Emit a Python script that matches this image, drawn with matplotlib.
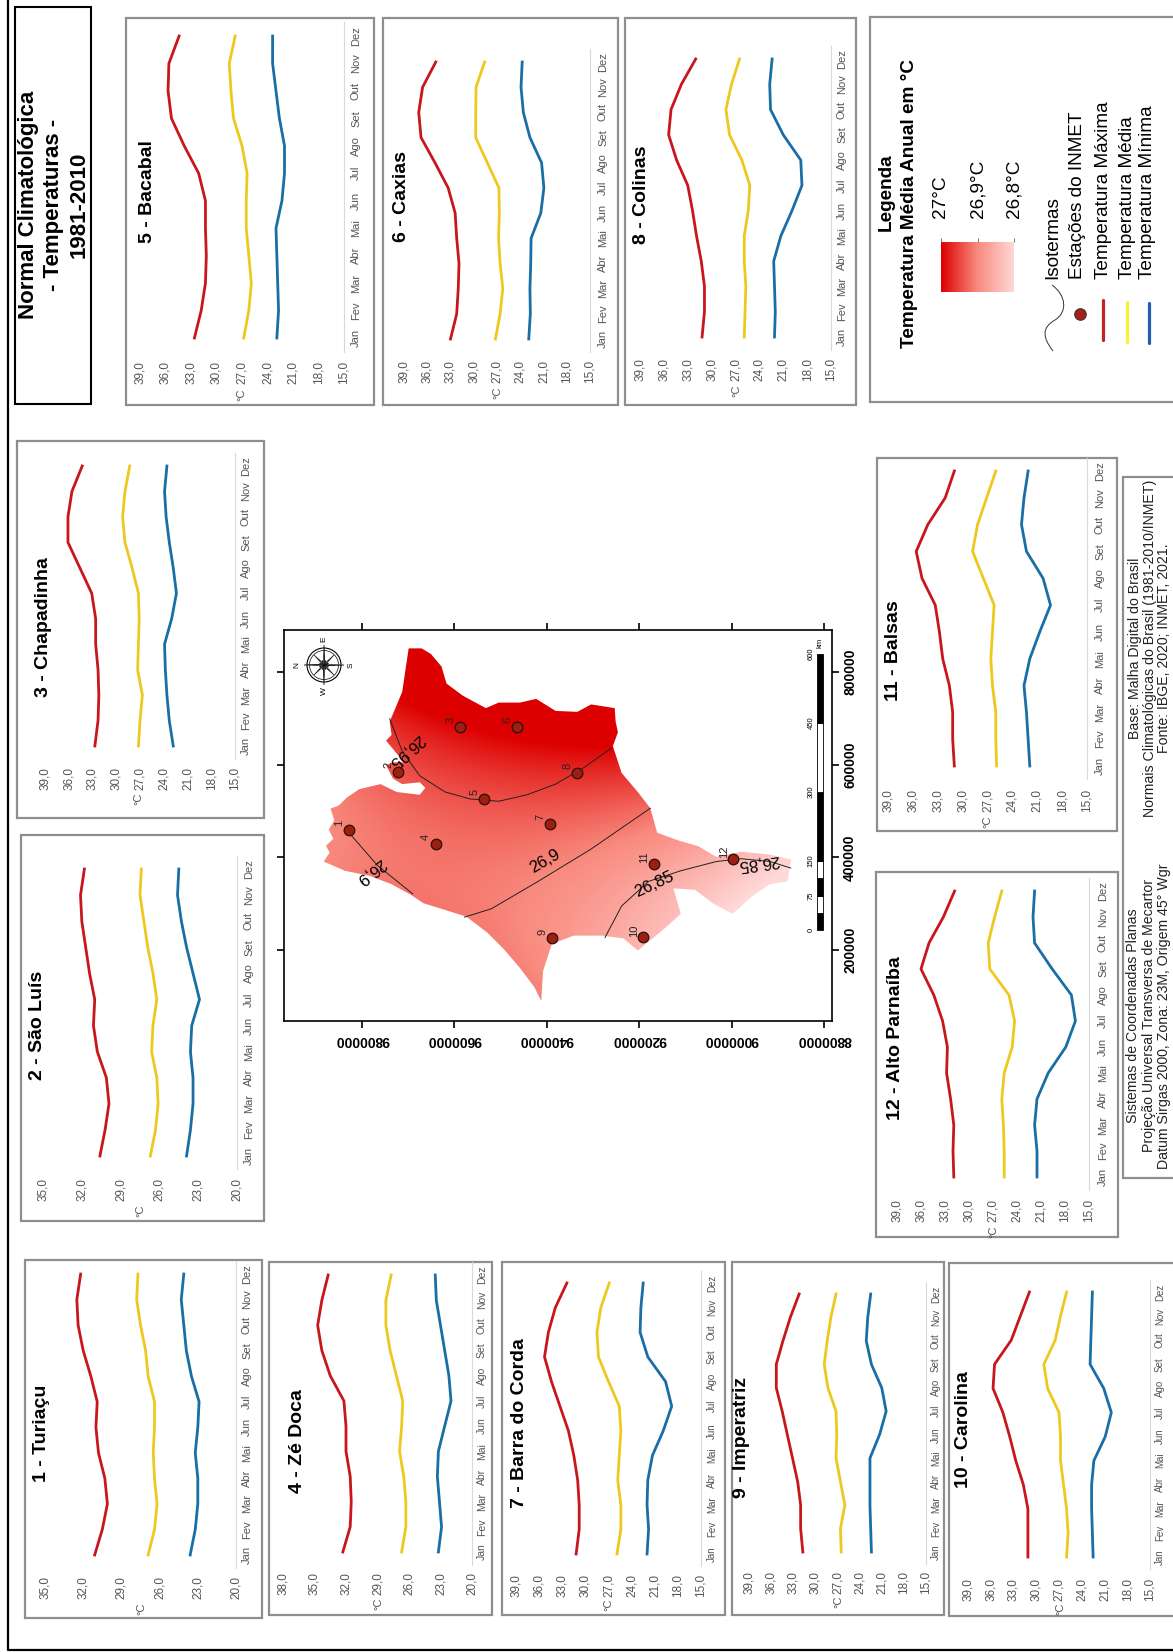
import numpy as np
import matplotlib
matplotlib.use("Agg")
import matplotlib.pyplot as plt
from matplotlib.colors import LinearSegmentedColormap
from matplotlib.patches import Rectangle, Polygon, Circle, PathPatch
from matplotlib.path import Path

plt.rcParams['font.family'] = ['Liberation Sans', 'DejaVu Sans']

W, H = 1173, 1652
PT = 1.389  # pixels por ponto em dpi 100

meses = ['Jan', 'Fev', 'Mar', 'Abr', 'Mai', 'Jun', 'Jul', 'Ago', 'Set', 'Out', 'Nov', 'Dez']
ticks_39 = [39, 36, 33, 30, 27, 24, 21, 18, 15]
ticks_35 = [35, 32, 29, 26, 23, 20]
ticks_38 = [38, 35, 32, 29, 26, 23, 20]

# Temperaturas mensais de cada estacao
max_1 = [31.1, 30.5, 30.1, 30.3, 30.8, 31.0, 30.9, 31.4, 32.0, 32.4, 32.5, 32.2]
med_1 = [26.9, 26.4, 26.2, 26.4, 26.5, 26.4, 26.4, 26.9, 27.1, 27.5, 27.8, 27.7]
min_1 = [23.6, 23.2, 23.0, 23.0, 23.2, 23.0, 22.9, 23.5, 23.9, 24.1, 24.3, 24.1]
max_2 = [30.6, 30.2, 29.9, 30.1, 30.8, 31.1, 31.0, 31.4, 31.7, 32.0, 32.1, 31.8]
med_2 = [26.7, 26.3, 26.1, 26.2, 26.6, 26.5, 26.2, 26.5, 26.9, 27.2, 27.5, 27.4]
min_2 = [23.9, 23.6, 23.4, 23.4, 23.6, 23.5, 22.9, 23.4, 23.9, 24.3, 24.6, 24.5]
max_3 = [32.7, 32.3, 32.2, 32.3, 32.6, 32.6, 33.1, 34.6, 36.1, 36.1, 35.6, 34.3]
med_3 = [27.2, 27.0, 26.7, 27.3, 27.2, 27.1, 27.2, 28.0, 28.9, 29.2, 28.9, 28.3]
min_3 = [22.8, 23.3, 23.6, 23.8, 23.9, 23.0, 22.4, 22.8, 23.3, 23.7, 23.9, 23.6]
max_4 = [32.3, 31.6, 31.5, 31.6, 32.0, 32.0, 32.2, 33.5, 34.3, 34.7, 34.3, 33.7]
med_4 = [26.7, 26.3, 26.3, 26.5, 26.9, 26.7, 26.6, 27.2, 27.8, 28.2, 28.2, 27.7]
min_4 = [23.2, 22.9, 23.1, 23.3, 23.2, 22.6, 22.0, 22.2, 22.6, 23.0, 23.4, 23.5]
max_5 = [32.6, 31.8, 31.3, 31.2, 31.3, 31.3, 32.1, 33.8, 35.3, 35.7, 35.6, 34.4]
med_5 = [26.8, 26.2, 25.9, 26.2, 26.5, 26.5, 26.4, 27.0, 28.0, 28.3, 28.5, 27.8]
min_5 = [22.9, 22.7, 22.8, 22.9, 23.0, 22.3, 22.0, 22.0, 22.6, 23.0, 23.4, 23.4]
max_6 = [33.0, 32.2, 32.0, 31.9, 32.2, 32.4, 33.3, 35.0, 36.8, 37.1, 36.6, 34.9]
med_6 = [27.2, 26.6, 26.25, 26.6, 26.8, 26.7, 26.75, 28.25, 29.75, 29.75, 29.7, 28.6]
min_6 = [22.9, 22.7, 22.75, 22.65, 22.6, 21.35, 20.95, 21.25, 22.75, 23.6, 23.9, 23.75]
max_7 = [31.2, 30.8, 30.8, 31.0, 31.5, 32.2, 33.3, 34.4, 35.3, 34.8, 33.9, 32.4]
med_7 = [25.9, 25.4, 25.4, 25.8, 25.6, 25.4, 25.6, 27.0, 28.3, 28.5, 28.0, 26.9]
min_7 = [22.0, 21.8, 22.0, 21.9, 21.3, 19.9, 18.8, 19.6, 21.9, 22.9, 22.8, 22.5]
max_8 = [31.2, 30.9, 30.9, 31.3, 31.9, 32.4, 33.0, 34.4, 35.4, 35.1, 33.8, 32.0]
med_8 = [25.9, 25.8, 25.7, 25.9, 25.9, 25.4, 25.2, 26.2, 27.75, 28.2, 27.5, 26.5]
min_8 = [22.1, 22.0, 22.1, 22.2, 21.3, 19.9, 18.65, 18.8, 21.0, 22.6, 22.7, 22.4]
max_9 = [31.7, 32.0, 32.0, 32.4, 33.1, 33.8, 34.5, 35.3, 35.3, 34.4, 33.4, 32.2]
med_9 = [26.5, 26.6, 26.0, 26.6, 27.2, 27.1, 27.2, 28.3, 28.8, 28.4, 27.9, 27.2]
min_9 = [22.4, 22.5, 22.6, 22.6, 22.6, 21.3, 20.4, 21.0, 22.4, 23.1, 22.9, 22.5]
max_10 = [31.1, 31.1, 31.1, 31.7, 32.7, 33.5, 34.4, 35.7, 35.5, 33.3, 32.1, 30.9]
med_10 = [26.0, 25.8, 26.0, 26.4, 26.8, 26.8, 27.0, 28.5, 29.0, 27.5, 26.8, 26.0]
min_10 = [22.5, 22.6, 22.7, 22.7, 22.4, 20.9, 20.1, 21.1, 22.9, 22.8, 22.7, 22.6]
max_11 = [31.0, 31.2, 31.2, 31.6, 32.4, 32.8, 33.3, 34.9, 35.6, 34.2, 32.1, 31.0]
med_11 = [25.9, 26.0, 26.0, 26.4, 26.6, 26.4, 26.2, 27.5, 28.8, 28.2, 27.1, 26.0]
min_11 = [21.9, 22.1, 22.3, 22.6, 21.9, 20.7, 19.4, 20.3, 22.3, 22.9, 22.6, 22.1]
max_12 = [31.9, 32.0, 31.9, 32.3, 32.8, 32.7, 33.3, 34.4, 36.0, 35.0, 33.2, 31.8]
med_12 = [25.6, 25.6, 25.7, 25.9, 25.6, 24.6, 24.3, 25.0, 27.4, 27.6, 26.8, 25.9]
min_12 = [21.5, 21.5, 21.8, 21.5, 20.1, 17.9, 16.7, 17.2, 19.6, 21.8, 22.0, 21.8]

# Mapa: contorno e estacoes em km (norte, leste)
contorno_n = [9699, 9671, 9651, 9628, 9617, 9582, 9532, 9504, 9458, 9423, 9381, 9334, 9304, 9253, 9251, 9246,
              9257, 9238, 9203, 9176, 9161, 9114, 9072, 9033, 8979, 8917, 8871, 8879, 8917, 8952, 8998, 9041,
              9079, 9126, 9110, 9149, 9203, 9234, 9280, 9342, 9389, 9408, 9412, 9427, 9458, 9493, 9528, 9574,
              9628, 9667, 9694, 9736, 9783, 9837, 9883, 9870, 9878, 9862, 9872, 9860, 9868, 9850, 9833, 9806,
              9760, 9725, 9675, 9663, 9675, 9713, 9733, 9748, 9733, 9709, 9748, 9736, 9740, 9713]
contorno_e = [851, 851, 839, 812, 775, 749, 722, 734, 734, 742, 716, 714, 730, 722, 693, 670,
              640, 582, 541, 506, 453, 436, 424, 401, 412, 406, 395, 348, 342, 319, 278, 301,
              330, 333, 278, 243, 199, 225, 231, 231, 213, 155, 90, 120, 161, 202, 237, 272,
              289, 301, 319, 342, 360, 371, 391, 410, 425, 440, 460, 480, 505, 512, 529, 547,
              558, 541, 535, 550, 562, 558, 570, 599, 605, 605, 652, 664, 693, 757]
est_n = [9828, 9721, 9588, 9640, 9535, 9464, 9392, 9334, 9389, 9191, 9168, 8996]
est_e = [459, 585, 681, 428, 526, 681, 473, 582, 225, 227, 385, 397]
est_t = [26.90, 26.93, 27.00, 26.93, 26.96, 27.02, 26.92, 26.95, 26.89, 26.84, 26.87, 26.85]

iso_95_n = [9740, 9713, 9675, 9620, 9566, 9504, 9443, 9381, 9319, 9259]
iso_95_e = [699, 629, 576, 541, 526, 521, 535, 558, 594, 637]
iso_90a_n = [9828, 9767, 9690]
iso_90a_e = [453, 383, 321]
iso_90b_n = [9176, 9304, 9419, 9520, 9578]
iso_90b_e = [506, 418, 348, 289, 271]
iso_85_n = [9274, 9238, 9180, 9110, 9033, 8979, 8917, 8872]
iso_85_e = [227, 295, 348, 371, 391, 397, 391, 377]

map_ticks_n = [9800, 9600, 9400, 9200, 9000, 8800]
map_ticks_e = [800, 600, 400, 200]

cor_max, cor_med, cor_min = '#C8161D', '#EFC81F', '#1A6EA6'
cinza = '#8E8E8E'
cor_txt = '#555555'
cmap = LinearSegmentedColormap.from_list('temp', [(0, '#FFD8D8'), (0.5, '#F98A7E'), (1, '#DD0000')])

fig = plt.figure(figsize=(W / 100, H / 100), dpi=100, facecolor='white')


def eixo_px(x0, y0, x1, y1, **kw):
    return fig.add_axes([x0 / W, 1 - y1 / H, (x1 - x0) / W, (y1 - y0) / H], **kw)


# Camada de fundo em pixels, para molduras e textos
bg = eixo_px(0, 0, W, H, zorder=0)
bg.set_xlim(0, W)
bg.set_ylim(H, 0)
bg.axis('off')


def moldura(x0, y0, x1, y1, cor=cinza, lw=1.6):
    bg.add_patch(Rectangle((x0, y0), x1 - x0, y1 - y0, fc='white', ec=cor, lw=lw))


def texto(x, y, s, size, bold=False, cor='black', rot=90, **kw):
    kw.setdefault('ha', 'center')
    kw.setdefault('va', 'center')
    bg.text(x, y, s, fontsize=size, fontweight='bold' if bold else 'normal', color=cor, rotation=rot, **kw)


def painel(titulo, maxima, media, minima, ticks, box, vx, meses_y, mes_x, tick_y, tit_xy, grau_xy, mes_fs=8):
    moldura(*box)
    jan, dez = meses_y
    passo = (jan - dez) / 11
    ax = eixo_px(vx[0], dez - passo / 2, vx[1], jan + passo / 2, zorder=1)
    ax.patch.set_alpha(0)
    y = np.arange(12)
    ax.plot(maxima, y, color=cor_max, lw=2.0)
    ax.plot(media, y, color=cor_med, lw=2.0)
    ax.plot(minima, y, color=cor_min, lw=2.0)
    ax.set_xlim(ticks[0], ticks[-1])
    ax.set_ylim(-0.5, 11.5)
    for lado in ['top', 'left', 'bottom']:
        ax.spines[lado].set_visible(False)
    ax.spines['right'].set_color('#D9D9D9')
    ax.spines['right'].set_linewidth(0.8)
    ax.set_xticks(ticks)
    ax.set_xticklabels([f'{t},0' for t in ticks], rotation=90, fontsize=8.5, color=cor_txt)
    ax.set_yticks(y)
    ax.set_yticklabels(meses, rotation=90, va='center', fontsize=mes_fs, color=cor_txt)
    ax.yaxis.tick_right()
    ax.tick_params(axis='x', length=0, pad=(tick_y - 12 - jan - passo / 2) / PT)
    ax.tick_params(axis='y', length=0, pad=(mes_x - 6 - vx[1]) / PT)
    texto(tit_xy[0], tit_xy[1], titulo, 14, bold=True)
    texto(grau_xy[0], grau_xy[1], '°C', 8, cor=cor_txt)


# Moldura geral
bg.plot([8, 8, W], [0, 1650, 1650], color='black', lw=1.6)

# Titulo
moldura(15, 7, 91, 404, cor='black', lw=1.5)
texto(29, 205, 'Normal Climatológica', 16, bold=True)
texto(54, 205, '- Temperaturas -', 16, bold=True)
texto(79, 205, '1981-2010', 16, bold=True)

painel('1 - Turiaçu', max_1, med_1, min_1, ticks_35, (25, 1260, 262, 1618), (45, 236), (1555, 1274), 248, 1588, (42, 1433), (141, 1609))
painel('2 - São Luís', max_2, med_2, min_2, ticks_35, (21, 835, 264, 1221), (43, 237), (1156, 869), 250, 1190, (38, 1025), (140, 1211))
painel('3 - Chapadinha', max_3, med_3, min_3, ticks_39, (17, 441, 264, 818), (45, 235), (746, 466), 247, 779, (43, 627), (138, 799))
painel('4 - Zé Doca', max_4, med_4, min_4, ticks_38, (269, 1262, 492, 1615), (283, 472), (1552, 1275), 483, 1584, (297, 1441), (378, 1604), 7.5)
painel('5 - Bacabal', max_5, med_5, min_5, ticks_39, (126, 18, 374, 405), (140, 344), (338, 36), 357, 373, (147, 192), (241, 395))
painel('6 - Caxias', max_6, med_6, min_6, ticks_39, (383, 18, 618, 405), (404, 590), (339, 62), 604, 372, (401, 197), (497, 393))
painel('7 - Barra do Corda', max_7, med_7, min_7, ticks_39, (502, 1262, 725, 1615), (516, 701), (1554, 1283), 713, 1586, (519, 1423), (608, 1605), 7)
painel('8 - Colinas', max_8, med_8, min_8, ticks_39, (625, 18, 856, 405), (640, 831), (337, 59), 843, 370, (641, 195), (736, 391))
painel('9 - Imperatriz', max_9, med_9, min_9, ticks_39, (732, 1262, 944, 1615), (749, 926), (1552, 1294), 937, 1583, (742, 1437), (838, 1602), 7)
painel('10 - Carolina', max_10, med_10, min_10, ticks_39, (949, 1263, 1190, 1616), (968, 1150), (1557, 1292), 1161, 1590, (964, 1430), (1060, 1609), 7)
painel('11 - Balsas', max_11, med_11, min_11, ticks_39, (877, 458, 1117, 831), (888, 1087), (766, 471), 1101, 801, (893, 651), (987, 822))
painel('12 - Alto Parnaíba', max_12, med_12, min_12, ticks_39, (876, 872, 1118, 1237), (897, 1089), (1177, 891), 1104, 1211, (895, 1038), (993, 1232))

# Mapa
mp = eixo_px(284, 630, 832, 1021, zorder=1)
n_ini = 9800 + (362 - 284) * 200 / 92.4
n_fim = 9800 - (832 - 362) * 200 / 92.4
e_ini = 800 + (672 - 630) * 200 / 92.67
e_fim = 800 - (1021 - 672) * 200 / 92.67

# superficie suave ajustada as temperaturas das estacoes
nn, ee = np.array(est_n, float), np.array(est_e, float)
def base(a, b):
    a = (a - 9400) / 400
    b = (b - 450) / 300
    return np.stack([np.ones_like(a), a, b, a * a, a * b, b * b], axis=-1)
coef = np.linalg.lstsq(base(nn, ee), np.array(est_t), rcond=None)[0]
gn, ge = np.meshgrid(np.linspace(n_ini, n_fim, 500), np.linspace(e_ini, e_fim, 400))
campo = base(gn, ge) @ coef
img = mp.imshow(campo, extent=(n_ini, n_fim, e_fim, e_ini), cmap=cmap, vmin=26.8, vmax=27.0, aspect='auto', zorder=1, interpolation='bilinear')
forma = Polygon(np.column_stack([contorno_n, contorno_e]), closed=True, transform=mp.transData, fc='none', ec='none')
mp.add_patch(forma)
img.set_clip_path(forma)

for n, e in [(iso_95_n, iso_95_e), (iso_90a_n, iso_90a_e), (iso_90b_n, iso_90b_e), (iso_85_n, iso_85_e)]:
    mp.plot(n, e, color='#222222', lw=0.7, zorder=2)
mp.text(9704, 629, '26,95', fontsize=12, rotation=222, ha='center', va='center', zorder=3)
mp.text(9783, 371, '26,9', fontsize=12, rotation=218, ha='center', va='center', zorder=3)
mp.text(9405, 391, '26,9', fontsize=12, rotation=30, ha='center', va='center', zorder=3)
mp.text(9168, 342, '26,85', fontsize=12, rotation=25, ha='center', va='center', zorder=3)
mp.text(8942, 389, '26,85', fontsize=12, rotation=188, ha='center', va='center', zorder=3)

mp.scatter(est_n, est_e, s=58, color='#9E1F12', edgecolor='#2A1008', linewidth=0.9, zorder=4)
for i in range(12):
    mp.annotate(str(i + 1), (est_n[i], est_e[i]), xytext=(-7, 5), textcoords='offset points', rotation=90,
                fontsize=8, ha='center', va='center', color='#222222', zorder=5)

mp.set_xlim(n_ini, n_fim)
mp.set_ylim(e_fim, e_ini)
mp.set_xticks(map_ticks_n)
mp.set_xticklabels([f'{t}000' for t in map_ticks_n], rotation=180, fontsize=10, fontweight='bold')
mp.set_yticks(map_ticks_e)
mp.set_yticklabels([f'{t}000' for t in map_ticks_e], rotation=90, va='center', fontsize=10, fontweight='bold')
mp.yaxis.tick_right()
mp.tick_params(axis='x', direction='out', length=5, width=1.2, top=True, bottom=True, pad=4)
mp.tick_params(axis='y', direction='out', length=5, width=1.2, left=True, right=True, pad=3)
for lado in mp.spines.values():
    lado.set_linewidth(1.2)

# Camada por cima do mapa: escala e rosa dos ventos
over = eixo_px(0, 0, W, H, zorder=2)
over.set_xlim(0, W)
over.set_ylim(H, 0)
over.axis('off')
esc_km = [0, 37.5, 75, 112.5, 150, 300, 450, 600]
y0, y1 = 930, 654
for i in range(len(esc_km) - 1):
    ya = y0 + (y1 - y0) * esc_km[i] / 600
    yb = y0 + (y1 - y0) * esc_km[i + 1] / 600
    over.add_patch(Rectangle((817, yb), 6, ya - yb, fc='black' if i % 2 == 0 else 'white', ec='black', lw=0.6))
for km in [0, 75, 150, 300, 450, 600]:
    over.text(811, y0 + (y1 - y0) * km / 600, str(km), fontsize=5.5, rotation=90, ha='center', va='center')
over.text(820, 643, 'km', fontsize=5.5, rotation=90, ha='center', va='center')

cx, cy, r = 324, 665, 17
over.add_patch(Circle((cx, cy), r, fc='none', ec='black', lw=0.8))
over.add_patch(Circle((cx, cy), r - 2.5, fc='none', ec='black', lw=0.5))
for k in range(16):
    ang = k * np.pi / 8
    rr = r + 3 if k % 4 == 0 else (r - 3 if k % 2 == 0 else 5)
    a1, a2 = ang + 0.22, ang - 0.22
    over.add_patch(Polygon([(cx + rr * np.cos(ang), cy + rr * np.sin(ang)),
                            (cx + 3 * np.cos(a1), cy + 3 * np.sin(a1)),
                            (cx, cy)], fc='black', ec='black', lw=0.3))
    over.add_patch(Polygon([(cx + rr * np.cos(ang), cy + rr * np.sin(ang)),
                            (cx + 3 * np.cos(a2), cy + 3 * np.sin(a2)),
                            (cx, cy)], fc='white', ec='black', lw=0.3))
over.text(cx - 27, cy, 'N', fontsize=6, rotation=90, ha='center', va='center')
over.text(cx + 27, cy, 'S', fontsize=6, rotation=90, ha='center', va='center')
over.text(cx, cy - 26, 'E', fontsize=6, rotation=90, ha='center', va='center')
over.text(cx, cy + 26, 'W', fontsize=6, rotation=90, ha='center', va='center')

# Legenda
moldura(870, 17, 1190, 402)
texto(886, 192, 'Legenda', 13.7, bold=True)
texto(910, 203, 'Temperatura Média Anual em °C', 13.7, bold=True)
leg = eixo_px(941, 242, 1014, 292, zorder=1)
leg.imshow(np.linspace(27, 26.8, 200).reshape(1, -1), extent=(27, 26.8, 0, 1), cmap=cmap, vmin=26.8, vmax=27.0, aspect='auto')
leg.set_yticks([])
leg.set_xticks([27, 26.9, 26.8])
leg.set_xticklabels(['27°C', '26,9°C', '26,8°C'], rotation=90, fontsize=13.7, ha='center', va='bottom')
leg.xaxis.tick_top()
leg.tick_params(axis='x', length=3, width=0.6, color='#666666', pad=14)
for lado in leg.spines.values():
    lado.set_visible(False)
texto(1053, 279, 'Isotermas', 13.7, va='bottom')
texto(1078, 279, 'Estações do INMET', 13.7, va='bottom')
texto(1103, 279, 'Temperatura Máxima', 13.7, va='bottom')
texto(1127, 279, 'Temperatura Média', 13.7, va='bottom')
texto(1148, 279, 'Temperatura Mínima', 13.7, va='bottom')
onda = Path([(1053, 351), (1043, 338), (1041, 328), (1055, 320), (1068, 312), (1066, 295), (1052, 285)],
            [Path.MOVETO, Path.CURVE4, Path.CURVE4, Path.CURVE4, Path.CURVE4, Path.CURVE4, Path.CURVE4])
bg.add_patch(PathPatch(onda, fc='none', ec='#333333', lw=0.7))
bg.scatter([1080], [314], s=70, color='#A52019', edgecolor='#333333', linewidth=0.7)
bg.plot([1103, 1103], [300, 340], color='#C62127', lw=2.3, solid_capstyle='round')
bg.plot([1127, 1127], [302, 342], color='#FAF137', lw=2.3, solid_capstyle='round')
bg.plot([1149, 1149], [303, 343], color='#1F5FAE', lw=2.3, solid_capstyle='round')

# Bloco de fontes
moldura(1123, 477, 1190, 1178)
fs = 10.2
texto(1135, 648, 'Base: Malha Digital do Brasil', fs, cor='#222222')
texto(1150, 648, 'Normais Climatológicas do Brasil (1981-2010/INMET)', fs, cor='#222222')
texto(1164, 648, 'Fonte: IBGE, 2020; INMET, 2021.', fs, cor='#222222')
texto(1133, 1016, 'Sistemas de Coordenadas Planas', fs, cor='#222222')
texto(1149, 1016, 'Projeção Universal Transversa de Mecartor', fs, cor='#222222')
texto(1164, 1016, 'Datum Sirgas 2000, Zona: 23M, Origem 45° Wgr', fs, cor='#222222')

fig.savefig('out.png', dpi=100)
